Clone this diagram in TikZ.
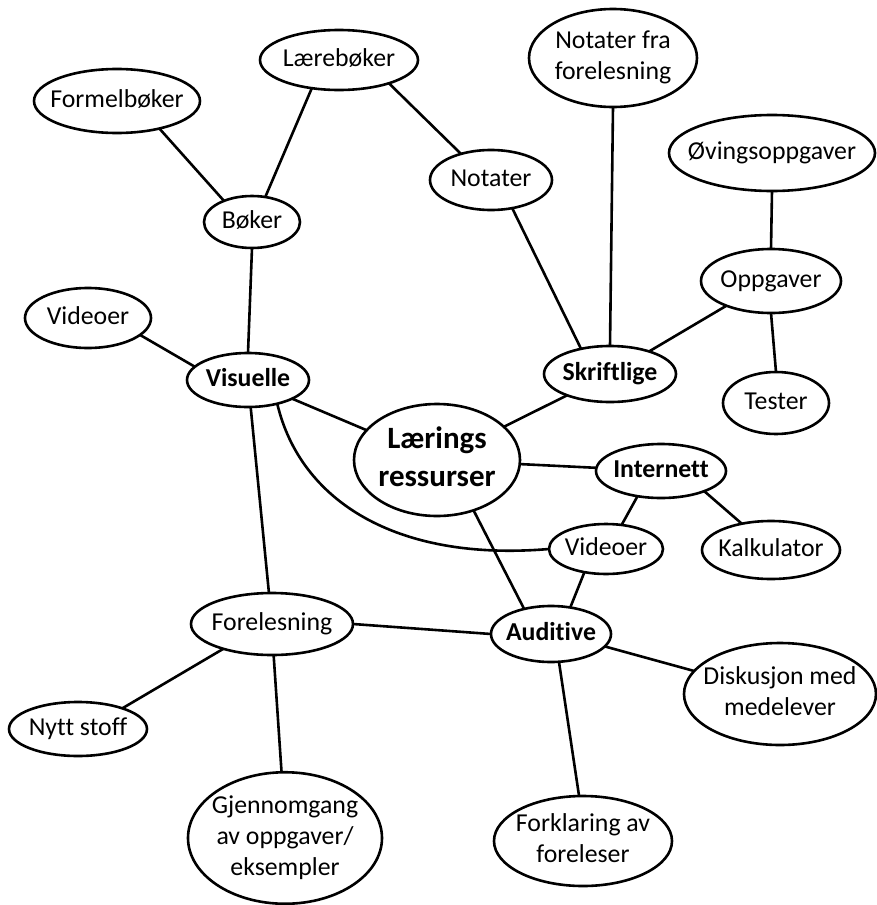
\documentclass[tikz,border=0pt]{standalone}
\usepackage{fontspec}
\setmainfont{Carlito}[Ligatures=CommonOff]
\usetikzlibrary{shapes.geometric}
% zero-width text block, so the ellipse size comes only from the radius keys
\newcommand\bubbletext[1]{\makebox[0pt]{\begin{tabular}{@{}c@{}}#1\end{tabular}}}
\tikzset{
  bubble/.style={ellipse, draw, line width=2.6pt, inner sep=0pt, outer sep=0pt,
                 font=\fontsize{25.8}{31}\selectfont},
  key/.style={font=\fontsize{25.8}{31}\selectfont\bfseries},
  hub/.style={font=\fontsize{31}{38}\selectfont\bfseries},
  rad/.style 2 args={minimum width={2*#1pt-2pt}, minimum height={2*#2pt-2pt}},
  link/.style={line width=2.6pt}
}
\begin{document}
\begin{tikzpicture}[x=1pt, y=-1pt]
  \useasboundingbox (0,0) rectangle (877,905);

  % nodes
  \node[bubble, rad={84}{33}] (formel) at (117,101) {\bubbletext{Formelbøker}};
  \node[bubble, rad={80}{31}] (laere) at (339,60) {\bubbletext{Lærebøker}};
  \node[bubble, rad={49}{27}] (boker) at (252,222) {\bubbletext{Bøker}};
  \node[bubble, rad={85}{50}] (notfra) at (613,58) {\bubbletext{Notater fra\\forelesning}};
  \node[bubble, rad={62}{31}] (notater) at (491,180) {\bubbletext{Notater}};
  \node[bubble, rad={104}{39}] (oving) at (772,153) {\bubbletext{Øvingsoppgaver}};
  \node[bubble, rad={71}{33}] (oppg) at (771,281) {\bubbletext{Oppgaver}};
  \node[bubble, rad={54}{32}] (tester) at (776,403) {\bubbletext{Tester}};
  \node[bubble, key, rad={67}{29}] (skrift) at (610,374) {\bubbletext{Skriftlige}};
  \node[bubble, rad={64}{31}] (vidl) at (88,318) {\bubbletext{Videoer}};
  \node[bubble, key, rad={62}{28}] (vis) at (248,380) {\bubbletext{Visuelle}};
  \node[bubble, hub, rad={84}{57}] (laer) at (437,460) {\bubbletext{Lærings\\ressurser}};
  \node[bubble, key, rad={66}{28}] (inter) at (661,471) {\bubbletext{Internett}};
  \node[bubble, rad={58}{26}] (vidr) at (606,549) {\bubbletext{Videoer}};
  \node[bubble, rad={70}{30}] (kalk) at (771,550) {\bubbletext{Kalkulator}};
  \node[bubble, key, rad={61}{29}] (aud) at (551,634) {\bubbletext{Auditive}};
  \node[bubble, rad={82}{32}] (fore) at (272,624) {\bubbletext{Forelesning}};
  \node[bubble, rad={70}{28}] (nytt) at (78,729) {\bubbletext{Nytt stoff}};
  \node[bubble, rad={98}{65}] (gjen) at (285,838) {\bubbletext{Gjennomgang\\av oppgaver/\\eksempler}};
  \node[bubble, rad={97}{52}] (disk) at (780,694) {\bubbletext{Diskusjon med\\medelever}};
  \node[bubble, rad={90}{46}] (fork) at (583,841) {\bubbletext{Forklaring av\\foreleser}};

  % connectors
  \draw[link] (formel.-33) -- (boker.143);
  \draw[link] (laere.-134) -- (boker.62);
  \draw[link] (laere.-25) -- (notater.139);
  \draw[link] (notater.-53) -- (skrift.139);
  \draw[link] (notfra.south) -- (skrift.north);
  \draw[link] (skrift.30) -- (oppg.-151);
  \draw[link] (oving.south) -- (oppg.north);
  \draw[link] (oppg.south) -- (tester.north);
  \draw[link] (skrift) -- (laer);
  \draw[link] (vis.166) -- (vidl.-18);
  \draw[link] (vis) -- (laer);
  \draw[link] (boker.south) -- (vis.north);
  \draw[link] (vis) -- (fore);
  \draw[link] (vis.-39) .. controls (300,500) and (395,562) .. (vidr.west);
  \draw[link] (laer) -- (inter);
  \draw[link] (inter.-133) -- (vidr.57);
  \draw[link] (inter.-25) -- (kalk.138);
  \draw[link] (laer.-54) -- (aud.137);
  \draw[link] (vidr.-133) -- (aud.54);
  \draw[link] (fore.east) -- (aud.west);
  \draw[link] (aud.-13) -- (disk.165);
  \draw[link] (aud.-74) -- (fork.95);
  \draw[link] (fore.-153) -- (nytt.25);
  \draw[link] (fore.-87) -- (gjen.93);
\end{tikzpicture}
\end{document}
